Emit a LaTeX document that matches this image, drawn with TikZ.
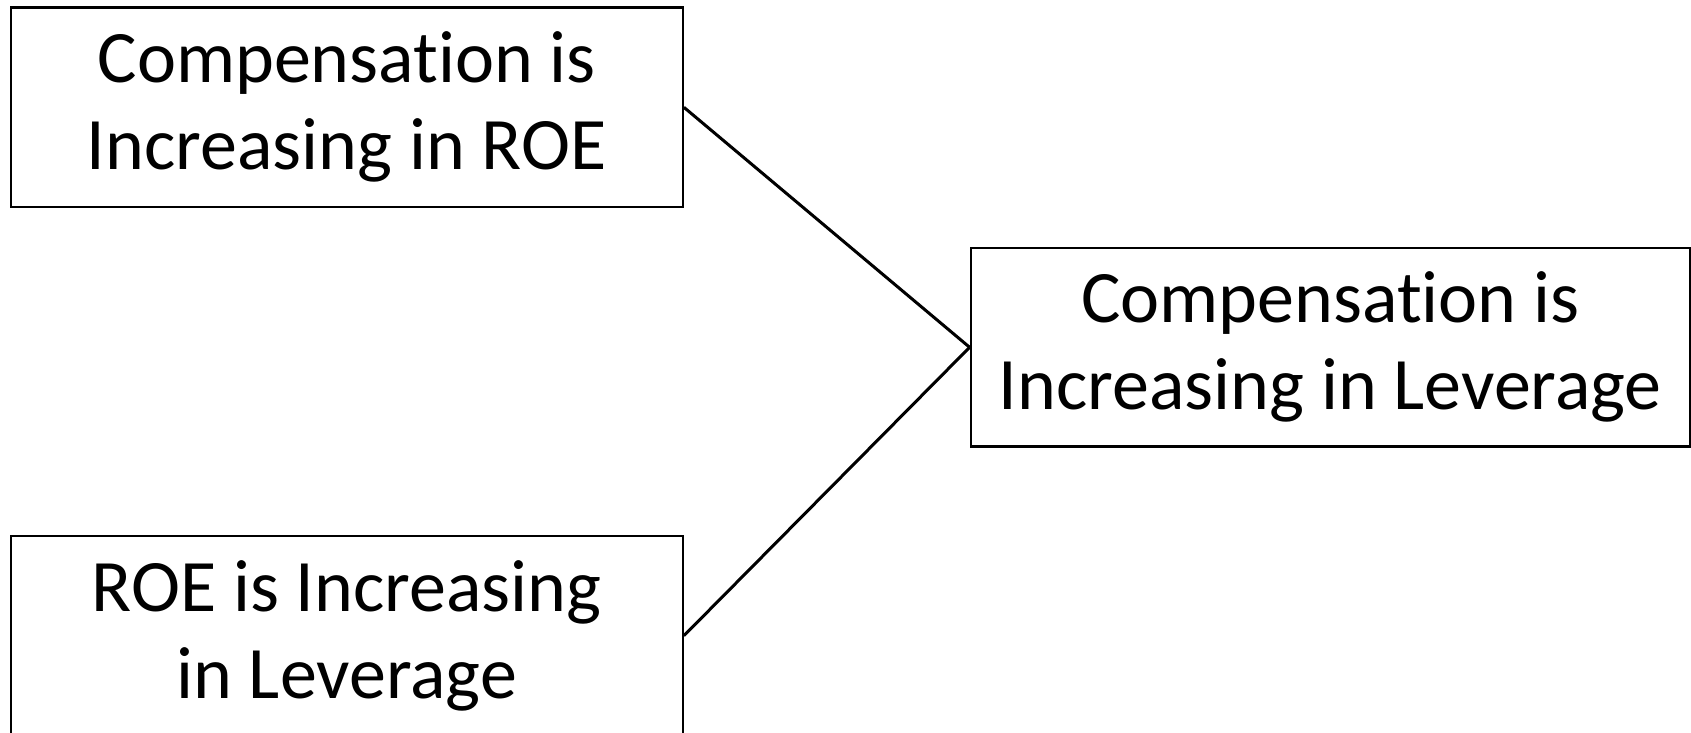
\documentclass[tikz,border=0pt]{standalone}
\usepackage{fontspec}
\setmainfont[Ligatures={NoCommon,NoDiscretionary,NoRequired}]{Carlito}
\begin{document}
\begin{tikzpicture}[x=1pt,y=-1pt,
  box/.style={draw,line width=2.4pt,rectangle,inner sep=0pt,align=center,
    font=\fontsize{74}{87}\selectfont},
  link/.style={line width=3pt}]
\useasboundingbox (0,0) rectangle (1691,733);
\node[box,minimum width=672pt,minimum height=199.5pt] (a) at (346.7,107.3) {Compensation is\\Increasing in ROE};
\node[box,minimum width=719pt,minimum height=198.5pt] (c) at (1330.3,347.3) {Compensation is\\Increasing in Leverage};
\node[box,minimum width=672pt,minimum height=199.5pt] (b) at (346.7,635.7) {ROE is Increasing\\in Leverage};
\draw[link] (a.east) -- (c.west);
\draw[link] (b.east) -- (c.west);
\end{tikzpicture}
\end{document}
